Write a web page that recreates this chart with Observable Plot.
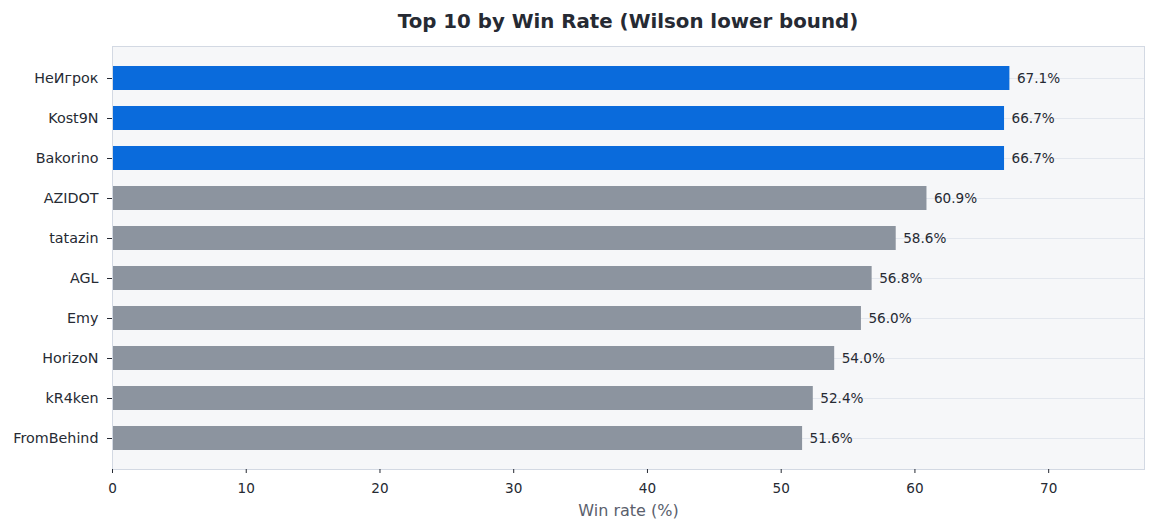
<!DOCTYPE html>
<html><head><meta charset="utf-8">
<script src="https://cdn.jsdelivr.net/npm/d3@7"></script>
<script src="https://cdn.jsdelivr.net/npm/@observablehq/plot@0.6"></script>
<style>
body{margin:0;background:#fff;font-family:"DejaVu Sans",sans-serif;}
#title{margin-left:112px;width:1032px;height:40px;line-height:43px;text-align:center;font-weight:bold;font-size:19.8px;color:#262a33;white-space:nowrap;}
#chart svg{display:block;}
</style></head><body>
<div id="title">Top 10 by Win Rate (Wilson lower bound)</div>
<div id="chart"></div>
<script>
const players = ["НеИгрок","Kost9N","Bakorino","AZIDOT","tatazin","AGL","Emy","HorizoN","kR4ken","FromBehind"];
const winRates = [67.1,66.7,66.7,60.9,58.6,56.8,56.0,54.0,52.4,51.6];
const topCount = 3;
const xTicks = [0,10,20,30,40,50,60,70];
const xLabel = "Win rate (%)";

const rows = players.map((p,i)=>({player:p, rate:winRates[i], top:i<topCount}));
const xMax = d3.max(winRates)*1.15;

const chart = Plot.plot({
  width:1157, height:491,
  marginLeft:112, marginRight:13, marginTop:6, marginBottom:62,
  style:{fontFamily:"DejaVu Sans", fontSize:"13.6px", color:"#262a33", background:"#fff"},
  x:{domain:[0,xMax]},
  y:{domain:players, paddingInner:0.4, paddingOuter:0.475},
  marks:[
    Plot.frame({fill:"#f6f7f9", stroke:null}),
    Plot.gridY(players, {stroke:"#e3e7ee", strokeOpacity:1, strokeWidth:1}),
    Plot.barX(rows, {x:"rate", y:"player", fill:d=>d.top?"#0a6bdc":"#8c949f"}),
    Plot.text(rows, {x:"rate", y:"player", text:d=>d.rate.toFixed(1)+"%", dx:7, textAnchor:"start", fill:"#262a33", fontSize:13.6}),
    Plot.frame({stroke:"#d3d9e3", strokeWidth:1}),
    Plot.axisX({ticks:xTicks, tickFormat:d=>String(d), tickSize:4, tickPadding:10, label:null, fontSize:13.6, stroke:"#262a33"}),
    Plot.axisY({tickSize:5, tickPadding:9, label:null, fontSize:14.3, stroke:"#262a33"}),
    Plot.text([xLabel], {text:d=>d, frameAnchor:"bottom", lineAnchor:"middle", dy:41.5, fontSize:16, fill:"#5a606c"})
  ]
});
document.getElementById("chart").appendChild(chart);
</script>
</body></html>
